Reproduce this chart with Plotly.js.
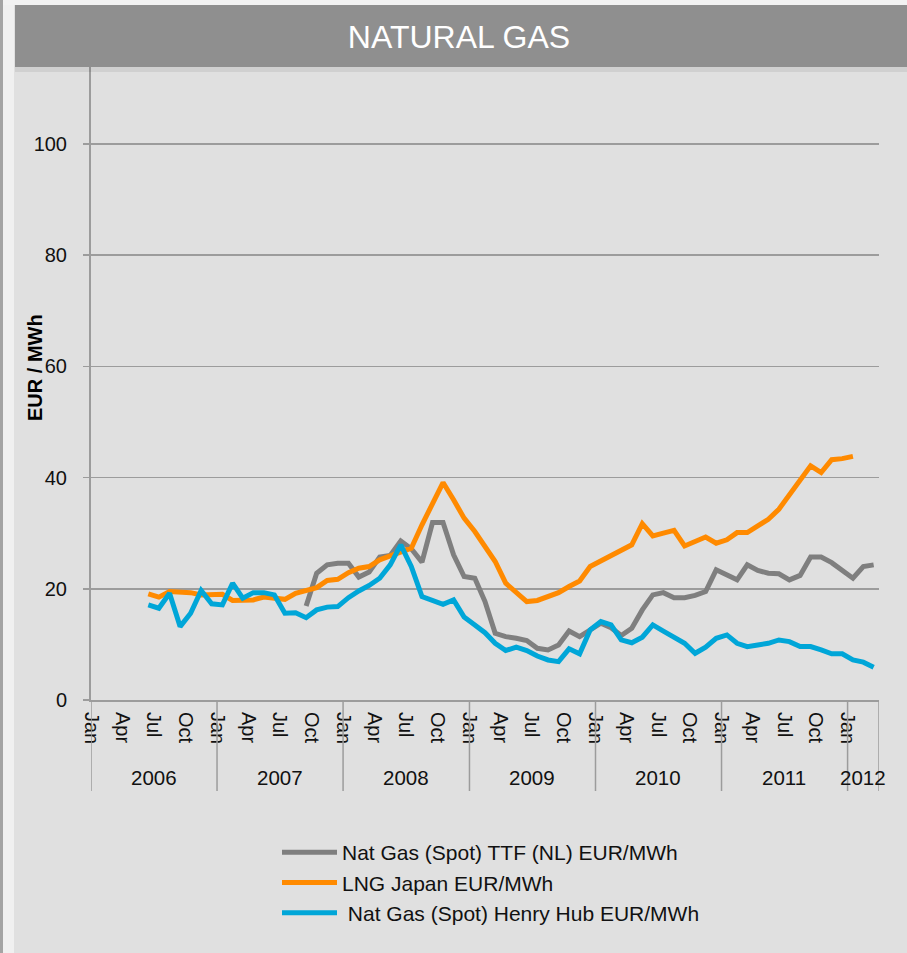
<!DOCTYPE html>
<html>
<head>
<meta charset="utf-8">
<script src="https://cdn.plot.ly/plotly-3.0.1.min.js"></script>
<style>
html,body{margin:0;padding:0;background:#e0e0e0;}
#chart{width:907px;height:953px;}
</style>
</head>
<body>
<div id="chart"></div>
<script>
// ---- data ----
const months = [
  "2006-06","2006-07","2006-08","2006-09","2006-10","2006-11","2006-12",
  "2007-01","2007-02","2007-03","2007-04","2007-05","2007-06","2007-07","2007-08","2007-09","2007-10","2007-11","2007-12",
  "2008-01","2008-02","2008-03","2008-04","2008-05","2008-06","2008-07","2008-08","2008-09","2008-10","2008-11","2008-12",
  "2009-01","2009-02","2009-03","2009-04","2009-05","2009-06","2009-07","2009-08","2009-09","2009-10","2009-11","2009-12",
  "2010-01","2010-02","2010-03","2010-04","2010-05","2010-06","2010-07","2010-08","2010-09","2010-10","2010-11","2010-12",
  "2011-01","2011-02","2011-03","2011-04","2011-05","2011-06","2011-07","2011-08","2011-09","2011-10","2011-11","2011-12",
  "2012-01","2012-02","2012-03"
];

const ttf = [
  null,null,null,null,null,null,null,
  null,null,null,null,null,null,null,null,16.9,22.8,24.3,24.6,
  24.6,22.1,23.0,25.7,26.0,28.6,27.2,24.8,31.9,31.9,26.1,22.2,
  21.9,17.7,12.0,11.4,11.1,10.7,9.3,9.0,9.9,12.4,11.4,12.6,
  13.8,13.0,11.6,12.9,16.2,18.9,19.3,18.4,18.4,18.8,19.5,23.4,
  22.5,21.6,24.3,23.3,22.8,22.7,21.6,22.4,25.7,25.7,24.7,23.3,
  21.9,24.0,24.3
];

const lngJapan = [
  19.1,18.5,19.5,19.4,19.3,18.9,18.9,
  19.0,17.9,17.9,18.0,18.5,18.2,18.1,19.2,19.7,20.2,21.5,21.7,
  22.9,23.7,24.0,25.2,25.9,26.5,27.3,31.5,35.4,39.1,36.0,32.7,
  30.3,27.7,24.9,21.0,19.3,17.7,17.9,18.6,19.3,20.4,21.4,24.0,
  25.0,26.0,27.0,27.9,31.7,29.5,30.0,30.5,27.7,28.5,29.3,28.2,
  28.8,30.1,30.1,31.3,32.5,34.3,36.9,39.5,42.1,40.9,43.2,43.4,
  43.8,null,null
];

const henryHub = [
  17.1,16.5,19.2,13.2,15.6,19.7,17.3,
  17.1,21.0,18.3,19.3,19.3,18.9,15.6,15.7,14.8,16.2,16.7,16.8,
  18.4,19.6,20.6,21.9,24.3,27.9,24.0,18.6,18.0,17.2,18.0,14.9,
  13.5,12.1,10.2,8.9,9.5,8.9,7.9,7.2,6.9,9.2,8.3,12.6,
  14.1,13.5,10.8,10.3,11.3,13.5,12.4,11.4,10.2,8.4,9.5,11.1,
  11.7,10.2,9.6,9.9,10.2,10.8,10.5,9.6,9.6,9.0,8.3,8.3,
  7.2,6.8,5.9
];

const seriesNames = [
  "Nat Gas (Spot) TTF (NL) EUR/MWh",
  "LNG Japan EUR/MWh",
  "\u00a0Nat Gas (Spot) Henry Hub EUR/MWh"
];

const tickDates = [
  "2006-01-01","2006-04-01","2006-07-01","2006-10-01",
  "2007-01-01","2007-04-01","2007-07-01","2007-10-01",
  "2008-01-01","2008-04-01","2008-07-01","2008-10-01",
  "2009-01-01","2009-04-01","2009-07-01","2009-10-01",
  "2010-01-01","2010-04-01","2010-07-01","2010-10-01",
  "2011-01-01","2011-04-01","2011-07-01","2011-10-01",
  "2012-01-01"
];
const tickLabels = [
  "Jan","Apr","Jul","Oct","Jan","Apr","Jul","Oct","Jan","Apr","Jul","Oct",
  "Jan","Apr","Jul","Oct","Jan","Apr","Jul","Oct","Jan","Apr","Jul","Oct","Jan"
];
const years = ["2006","2007","2008","2009","2010","2011","2012"];
const yearStarts = ["2006-01-01","2007-01-01","2008-01-01","2009-01-01","2010-01-01","2011-01-01","2012-01-01"];
const yearEnds   = ["2007-01-01","2008-01-01","2009-01-01","2010-01-01","2011-01-01","2012-01-01","2012-04-01"];
const yTicks = [0,20,40,60,80,100];

// ---- layout helpers ----
const W = 907, H = 953;
const M = {l: 91, r: 28, t: 66, b: 253};
const PW = W - M.l - M.r, PH = H - M.t - M.b;
const px = x => (x - M.l) / PW;        // pixel -> paper x
const py = y => (M.t + PH - y) / PH;   // pixel -> paper y

const FONT = "Liberation Sans, Arial, sans-serif";
const colors = ["#7f7f7f", "#ff8a00", "#00a6d8"];
const allSeries = [ttf, lngJapan, henryHub];

const traces = allSeries.map((vals, i) => ({
  type: "scatter",
  mode: "lines",
  x: months,
  y: vals,
  xperiod: "M1",
  xperiodalignment: "middle",
  name: seriesNames[i],
  line: {color: colors[i], width: 5},
  connectgaps: false,
  hoverinfo: "x+y+name"
}));

const gridCol = "#9c9c9c";
const shapes = [];
// year dividers below axis
yearStarts.concat(["2012-04-01"]).forEach(d => {
  shapes.push({type: "line", xref: "x", yref: "paper", x0: d, x1: d,
    y0: 0, y1: py(791), line: {color: gridCol, width: 1.5}});
});
// left border
shapes.push({type: "rect", xref: "paper", yref: "paper", x0: px(0), x1: px(3), y0: py(953), y1: py(0),
  line: {width: 0}, fillcolor: "#a4a4a4", layer: "below"});
shapes.push({type: "rect", xref: "paper", yref: "paper", x0: px(3), x1: px(14), y0: py(953), y1: py(0),
  line: {width: 0}, fillcolor: "#f0f0f0", layer: "below"});
// top strip
shapes.push({type: "rect", xref: "paper", yref: "paper", x0: px(3), x1: px(907), y0: py(5), y1: py(0),
  line: {width: 0}, fillcolor: "#f2f2f2", layer: "above"});
// banner shadow
shapes.push({type: "rect", xref: "paper", yref: "paper", x0: px(15), x1: px(907), y0: py(72), y1: py(66),
  line: {width: 0}, fillcolor: "rgba(0,0,0,0.07)", layer: "above"});
// banner
shapes.push({type: "rect", xref: "paper", yref: "paper", x0: px(15), x1: px(907), y0: py(67), y1: py(5),
  line: {width: 0}, fillcolor: "#8f8f8f", layer: "above"});

const annotations = years.map((yr, i) => {
  const a = new Date(yearStarts[i] + "T00:00:00Z").getTime();
  const b = new Date(yearEnds[i] + "T00:00:00Z").getTime();
  const mid = new Date((a + b) / 2).toISOString().slice(0, 10);
  return {text: yr, xref: "x", yref: "paper", x: mid, y: py(778), yanchor: "middle", xanchor: "center",
    showarrow: false, font: {family: FONT, size: 20.5, color: "#111"}};
});
annotations.push({text: "<b>EUR / MWh</b>", xref: "paper", yref: "paper", x: px(35), y: py(367),
  xanchor: "center", yanchor: "middle", textangle: -90, showarrow: false,
  font: {family: FONT, size: 20, color: "#000"}});

const layout = {
  width: W, height: H,
  margin: M,
  paper_bgcolor: "#e0e0e0",
  plot_bgcolor: "#e0e0e0",
  font: {family: FONT, size: 20, color: "#111"},
  title: {text: "NATURAL GAS", font: {family: FONT, size: 32, color: "#ffffff"},
    xref: "container", x: 459 / W, xanchor: "center", yref: "container", y: 1 - 37 / H, yanchor: "middle"},
  xaxis: {
    type: "date",
    range: ["2006-01-01", "2012-04-01"],
    tickvals: tickDates, ticktext: tickLabels,
    tickangle: 90,
    ticks: "",
    showgrid: false,
    showline: true, linecolor: gridCol, linewidth: 2,
    zeroline: false,
    ticklabelstandoff: 6,
    tickfont: {size: 20, color: "#111"}
  },
  yaxis: {
    range: [0, 114],
    tickvals: yTicks,
    ticks: "outside", ticklen: 6, tickcolor: gridCol, tickwidth: 1.5,
    showgrid: true, gridcolor: gridCol, gridwidth: 1.5,
    showline: true, linecolor: gridCol, linewidth: 2,
    zeroline: false,
    ticklabelstandoff: 12,
    tickfont: {size: 20, color: "#111"}
  },
  showlegend: true,
  legend: {
    x: px(277), y: py(832), xanchor: "left", yanchor: "top",
    bgcolor: "rgba(0,0,0,0)", borderwidth: 0,
    font: {family: FONT, size: 21, color: "#111"},
    itemwidth: 55, tracegroupgap: 0
  },
  shapes: shapes,
  annotations: annotations
};

Plotly.newPlot("chart", traces, layout, {displayModeBar: false, staticPlot: true});
</script>
</body>
</html>
